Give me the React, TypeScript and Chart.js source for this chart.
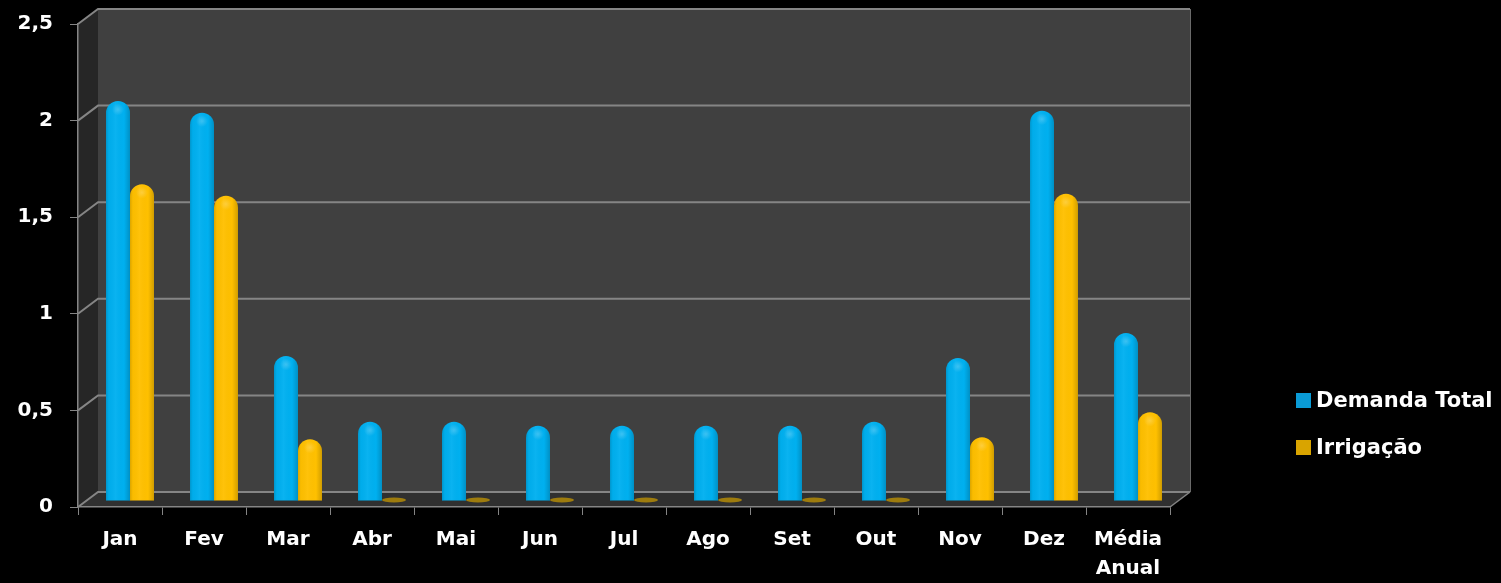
import React, { useEffect, useRef } from "react";
import { Chart, registerables } from "chart.js";

Chart.register(...registerables);

const categories: (string | string[])[] = [
  "Jan", "Fev", "Mar", "Abr", "Mai", "Jun", "Jul", "Ago", "Set", "Out", "Nov", "Dez", ["Média", "Anual"],
];
const demandaTotal = [2.07, 2.01, 0.75, 0.41, 0.41, 0.39, 0.39, 0.39, 0.39, 0.41, 0.74, 2.02, 0.87];
const irrigacao = [1.64, 1.58, 0.32, 0, 0, 0, 0, 0, 0, 0, 0.33, 1.59, 0.46];
const seriesNames = ["Demanda Total", "Irrigação"];
const yMin = 0;
const yMax = 2.5;
const yStep = 0.5;

const BLUE = "#00B0F0";
const YELLOW = "#FFC000";
const LEGEND_BLUE = "#0A9BD6";
const LEGEND_YELLOW = "#D9A400";
const FONT = "'DejaVu Sans', sans-serif";
const DX = 20;
const DY = 15;
const BAR_DX = 10;
const BAR_DY = -6;

const wallsPlugin = {
  id: "walls3d",
  beforeDraw(chart: any) {
    const { ctx, chartArea, scales } = chart;
    const y = scales.y;
    const L = chartArea.left;
    const R = chartArea.right;
    const T = y.getPixelForValue(yMax);
    const B = y.getPixelForValue(yMin);
    ctx.save();
    ctx.fillStyle = "#000";
    ctx.fillRect(0, 0, chart.width, chart.height);
    ctx.fillStyle = "#404040";
    ctx.fillRect(L + DX, T - DY, R - L, B - T);
    ctx.fillStyle = "#262626";
    ctx.beginPath();
    ctx.moveTo(L, T);
    ctx.lineTo(L + DX, T - DY);
    ctx.lineTo(L + DX, B - DY);
    ctx.lineTo(L, B);
    ctx.closePath();
    ctx.fill();
    ctx.fillStyle = "#303030";
    ctx.beginPath();
    ctx.moveTo(L, B);
    ctx.lineTo(L + DX, B - DY);
    ctx.lineTo(R + DX, B - DY);
    ctx.lineTo(R, B);
    ctx.closePath();
    ctx.fill();
    ctx.strokeStyle = "#858585";
    ctx.lineWidth = 2;
    for (let v = yMin; v <= yMax + 1e-9; v += yStep) {
      const py = y.getPixelForValue(v);
      ctx.beginPath();
      ctx.moveTo(L, py);
      ctx.lineTo(L + DX, py - DY);
      ctx.lineTo(R + DX, py - DY);
      ctx.stroke();
    }
    ctx.lineWidth = 1;
    ctx.strokeStyle = "#6a6a6a";
    ctx.beginPath();
    ctx.moveTo(R + DX + 0.5, T - DY);
    ctx.lineTo(R + DX + 0.5, B - DY);
    ctx.stroke();
    ctx.strokeStyle = "#858585";
    ctx.lineWidth = 1.5;
    ctx.beginPath();
    ctx.moveTo(R, B);
    ctx.lineTo(R + DX, B - DY);
    ctx.stroke();
    ctx.restore();
  },
  beforeDatasetsDraw(chart: any) {
    const { ctx } = chart;
    ctx.save();
    ctx.translate(BAR_DX, BAR_DY);
    chart.data.datasets.forEach((ds: any, i: number) => {
      const meta = chart.getDatasetMeta(i);
      meta.data.forEach((el: any, j: number) => {
        if (ds.data[j] === 0) {
          const p = el.getProps(["x", "base", "width"], true);
          ctx.fillStyle = "#9E7C0E";
          ctx.beginPath();
          ctx.ellipse(p.x, p.base - 1, p.width / 2, 2.5, 0, 0, Math.PI * 2);
          ctx.fill();
        }
      });
    });
  },
  afterDatasetsDraw(chart: any) {
    const { ctx } = chart;
    chart.data.datasets.forEach((ds: any, i: number) => {
      const meta = chart.getDatasetMeta(i);
      meta.data.forEach((el: any, j: number) => {
        if (!ds.data[j]) return;
        const p = el.getProps(["x", "y", "base", "width"], true);
        const l = p.x - p.width / 2;
        const r = p.x + p.width / 2;
        const rad = p.width / 2;
        ctx.save();
        ctx.beginPath();
        ctx.moveTo(l, p.base);
        ctx.lineTo(l, p.y + rad);
        ctx.arc(p.x, p.y + rad, rad, Math.PI, 0);
        ctx.lineTo(r, p.base);
        ctx.closePath();
        ctx.clip();
        const g = ctx.createLinearGradient(l, 0, r, 0);
        g.addColorStop(0, "rgba(0,0,0,0.14)");
        g.addColorStop(0.12, "rgba(0,0,0,0.02)");
        g.addColorStop(0.4, "rgba(255,255,255,0.04)");
        g.addColorStop(0.75, "rgba(0,0,0,0)");
        g.addColorStop(1, "rgba(0,0,0,0.18)");
        ctx.fillStyle = g;
        ctx.fillRect(l, p.y, p.width, p.base - p.y);
        const hg = ctx.createRadialGradient(p.x, p.y + rad * 0.7, 0, p.x, p.y + rad * 0.7, rad * 0.5);
        hg.addColorStop(0, "rgba(255,255,255,0.22)");
        hg.addColorStop(1, "rgba(255,255,255,0)");
        ctx.fillStyle = hg;
        ctx.fillRect(l, p.y, p.width, rad * 2);
        ctx.restore();
      });
    });
    ctx.restore();
  },
  afterDraw(chart: any) {
    const { ctx } = chart;
    ctx.save();
    const items = [
      { name: seriesNames[0], color: LEGEND_BLUE, y: 400.5 },
      { name: seriesNames[1], color: LEGEND_YELLOW, y: 447.5 },
    ];
    ctx.font = `bold 21px ${FONT}`;
    ctx.textBaseline = "middle";
    ctx.textAlign = "left";
    items.forEach((it) => {
      ctx.fillStyle = it.color;
      ctx.fillRect(1296, it.y - 7.5, 15, 15);
      ctx.fillStyle = "#fff";
      ctx.fillText(it.name, 1316, it.y + 1);
    });
    ctx.restore();
  },
};

export default function App() {
  const ref = useRef<HTMLCanvasElement | null>(null);
  useEffect(() => {
    if (!ref.current) return;
    const chart = new Chart(ref.current, {
      type: "bar",
      data: {
        labels: categories as any,
        datasets: [
          {
            label: seriesNames[0],
            data: demandaTotal,
            backgroundColor: BLUE,
            borderRadius: { topLeft: 12, topRight: 12, bottomLeft: 0, bottomRight: 0 },
            borderSkipped: "start",
            categoryPercentage: 0.571,
            barPercentage: 1,
          },
          {
            label: seriesNames[1],
            data: irrigacao,
            backgroundColor: YELLOW,
            borderRadius: { topLeft: 12, topRight: 12, bottomLeft: 0, bottomRight: 0 },
            borderSkipped: "start",
            categoryPercentage: 0.571,
            barPercentage: 1,
          },
        ],
      },
      options: {
        responsive: false,
        animation: false,
        devicePixelRatio: 1,
        layout: { padding: { top: 24, right: 331, left: 0, bottom: 0 } },
        plugins: { legend: { display: false }, tooltip: { enabled: false } },
        datasets: { bar: { clip: false } as any },
        scales: {
          x: {
            grid: { drawOnChartArea: false, tickLength: 8, color: "#858585", offset: true },
            border: { color: "#858585", width: 1.5 },
            ticks: {
              color: "#fff",
              font: { family: FONT, size: 20, weight: "bold", lineHeight: 1.45 },
              padding: 10,
              maxRotation: 0,
              autoSkip: false,
            },
            afterFit: (s: any) => {
              s.height = 583 - 507;
              s.paddingLeft = 0;
              s.paddingRight = 0;
            },
          },
          y: {
            min: yMin,
            max: yMax,
            grid: { drawOnChartArea: false, tickLength: 8, color: "#858585" },
            border: { color: "#858585", width: 1.5 },
            ticks: {
              stepSize: yStep,
              color: "#fff",
              font: { family: FONT, size: 20, weight: "bold" },
              padding: 17,
              callback: (v: any) => String(v).replace(".", ","),
            },
            afterFit: (s: any) => {
              s.width = 78;
              s.paddingTop = 0;
              s.paddingBottom = 0;
            },
          },
        },
      },
      plugins: [wallsPlugin],
    });
    return () => chart.destroy();
  }, []);
  return (
    <div style={{ position: "absolute", left: 0, top: 0, width: 1501, height: 583, background: "#000" }}>
      <canvas ref={ref} width={1501} height={583} style={{ display: "block" }} />
    </div>
  );
}
